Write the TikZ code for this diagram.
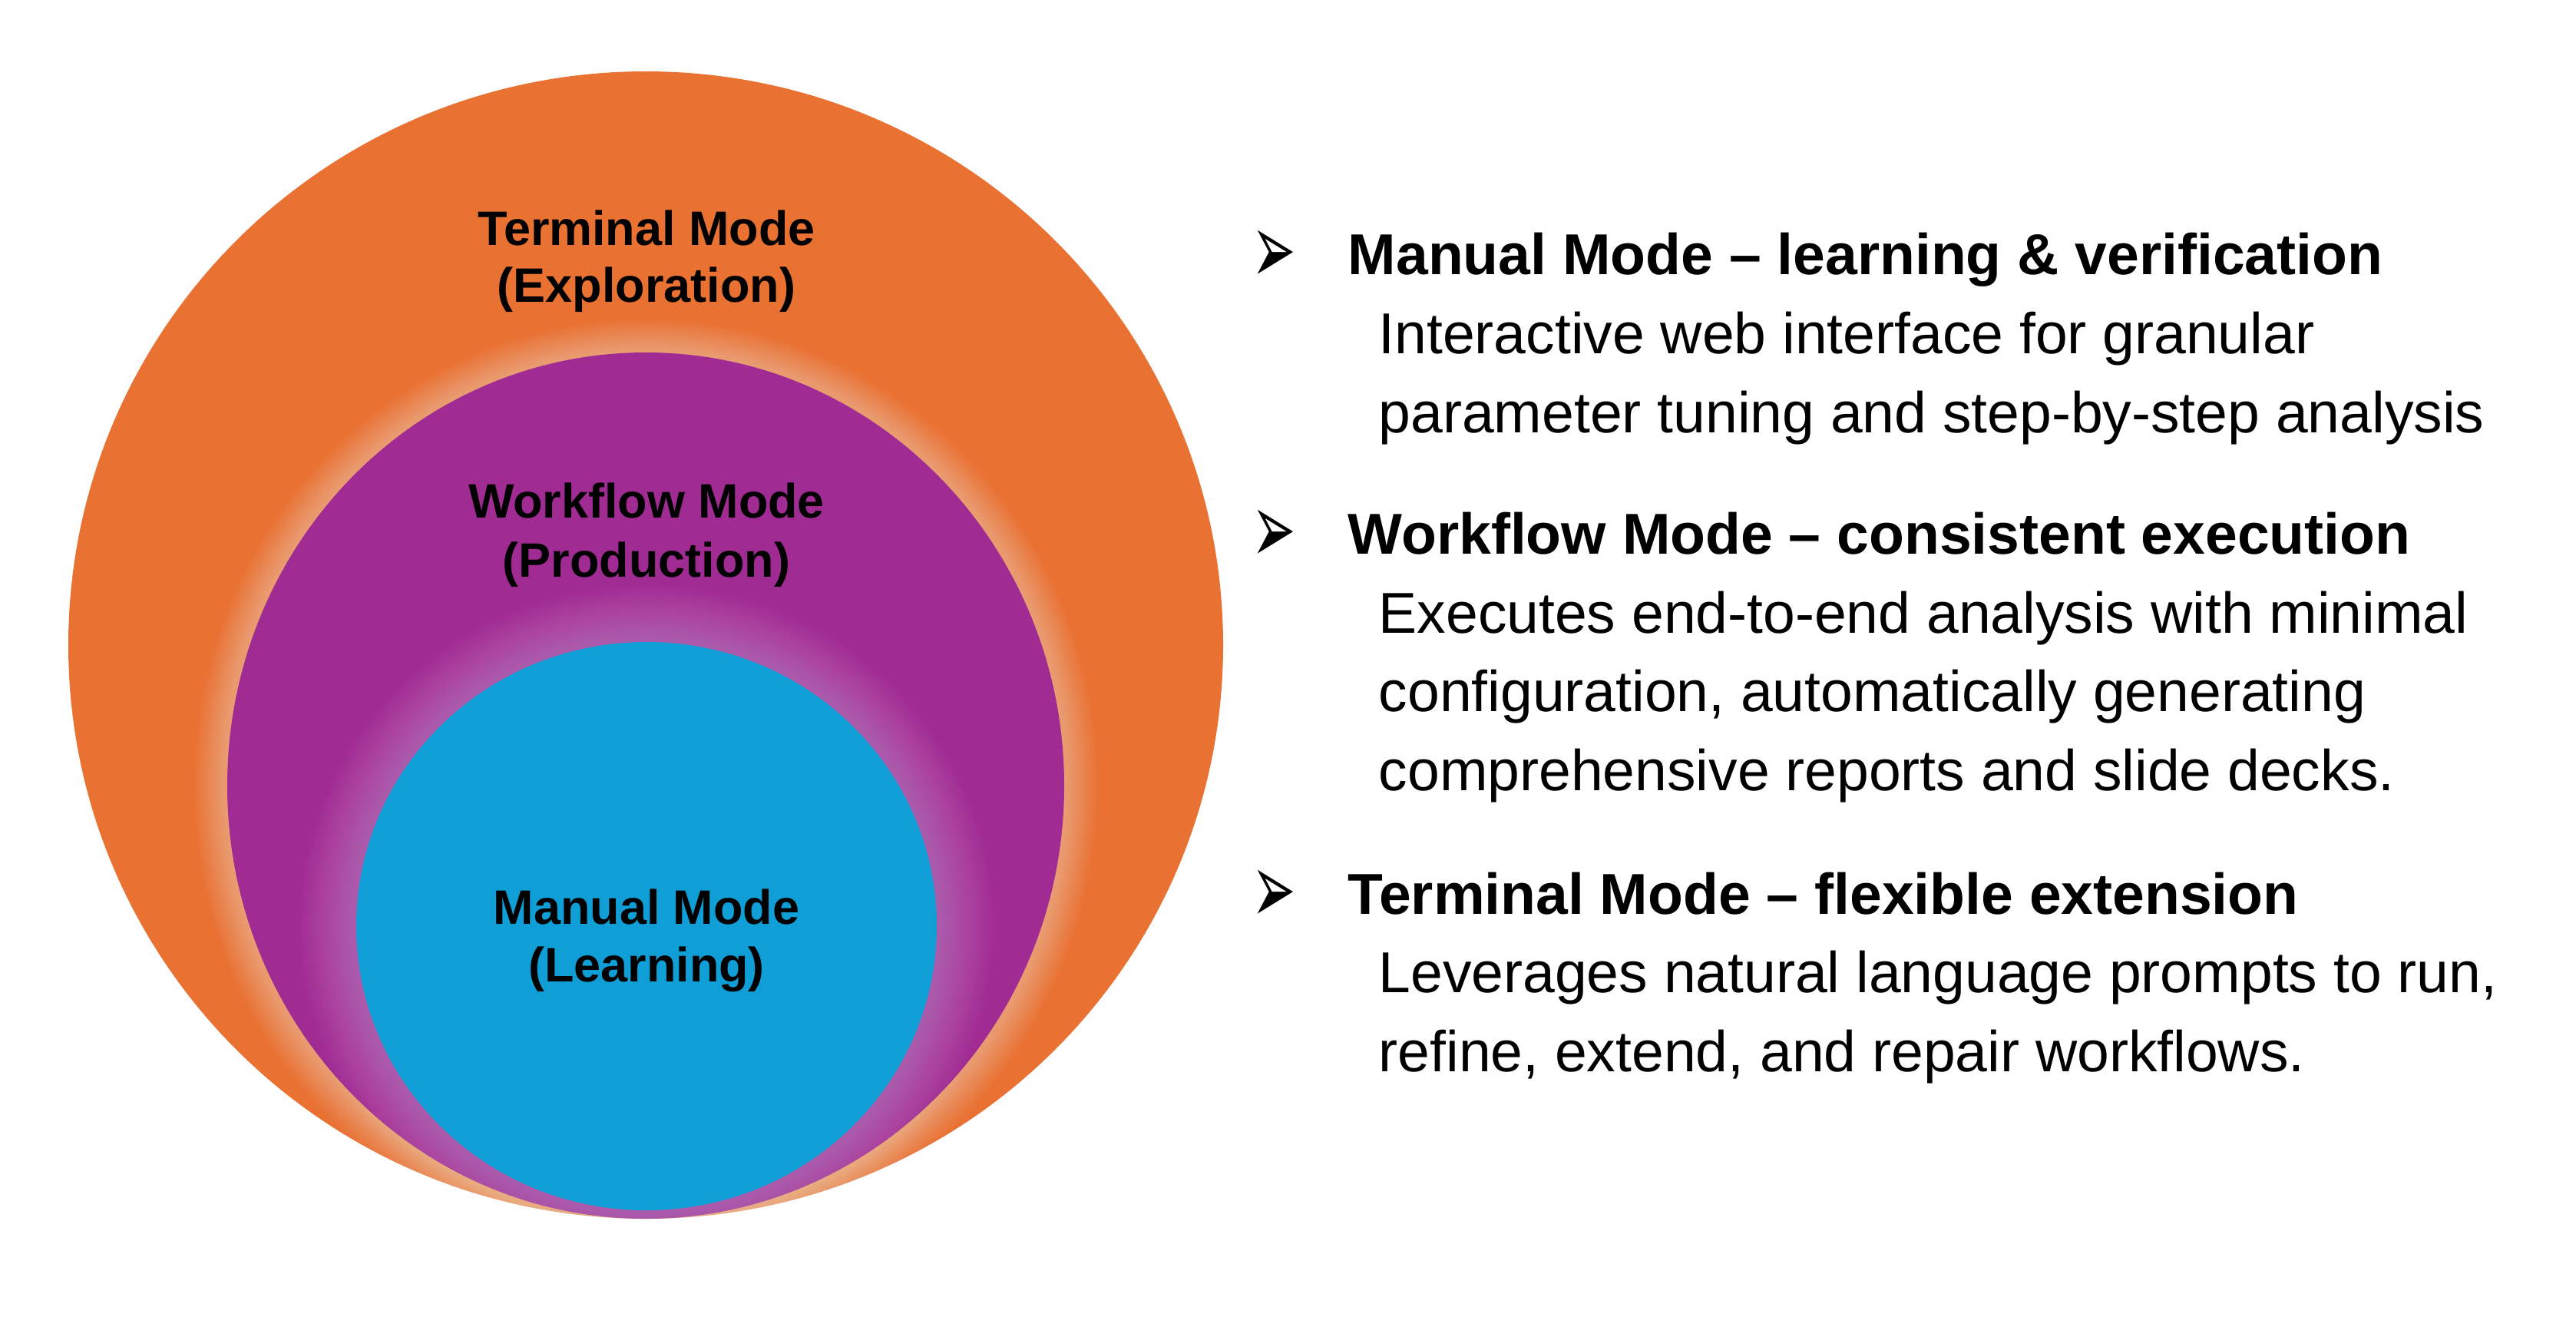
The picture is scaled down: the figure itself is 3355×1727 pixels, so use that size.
\documentclass[tikz,border=0pt]{standalone}
\usepackage{fontspec}
\setmainfont{Liberation Sans}
\newfontfamily\dingfont{DejaVu Sans}
\definecolor{termorange}{HTML}{E97132}
\definecolor{workpurple}{HTML}{A02B93}
\definecolor{manblue}{HTML}{0F9ED5}
\newcommand{\modearrow}{\scalebox{1}[1.9]{➢}}
\tikzset{
   modelabel/.style={font=\bfseries\fontsize{17.9}{21.6}\selectfont,anchor=base,inner sep=0pt},
   headline/.style={font=\bfseries\fontsize{21.35}{29}\selectfont,anchor=base west,inner sep=0pt},
   bodyline/.style={font=\fontsize{21.35}{29}\selectfont,anchor=base west,inner sep=0pt},
   arrowbullet/.style={font=\dingfont\fontsize{19.5}{22}\selectfont,anchor=base west,inner sep=0pt}
}

\begin{document}
\begin{tikzpicture}[x=0.01cm,y=-0.01cm]
   \useasboundingbox (0,0) rectangle (3355,1727);
   % nested modes
   \fill[termorange] (841,840) ellipse [x radius=752,y radius=747];
   \foreach \d in {2,4,...,44}
      \fill[white,opacity=0.018] (841,1023) ellipse [x radius=545+\d,y radius=564+\d];
   \fill[workpurple] (841,1023) ellipse [x radius=545,y radius=564];
   \foreach \d in {3,6,...,75}
      \fill[white,opacity=0.012] (842,1206) ellipse [x radius=378+\d,y radius=370+\d];
   \fill[manblue] (842,1206) ellipse [x radius=378,y radius=370];
   \begin{scope}[every node/.style={modelabel}]
    \node (term1) at (842,319) {Terminal Mode};
    \node (term2) at (842,393) {(Exploration)};
    \node (work1) at (842,674) {Workflow Mode};
    \node (work2) at (842,751) {(Production)};
    \node (man1) at (842,1203) {Manual Mode};
    \node (man2) at (842,1278) {(Learning)};
   \end{scope}
   % descriptions
   \node[arrowbullet] (b1) at (1630,369) {\modearrow};
   \node[arrowbullet] (b2) at (1630,733) {\modearrow};
   \node[arrowbullet] (b3) at (1630,1202) {\modearrow};
   \node[headline] (h1) at (1755,357) {Manual Mode – learning \& verification};
   \node[headline] (h2) at (1755,721) {Workflow Mode – consistent execution};
   \node[headline] (h3) at (1755,1190) {Terminal Mode – flexible extension};
   \begin{scope}[every node/.style={bodyline}]
    \node (t11) at (1795,460) {Interactive web interface for granular};
    \node (t12) at (1795,563) {parameter tuning and step-by-step analysis};
    \node (t21) at (1795,824) {Executes end-to-end analysis with minimal};
    \node (t22) at (1795,926) {configuration, automatically generating};
    \node (t23) at (1795,1029) {comprehensive reports and slide decks.};
    \node (t31) at (1795,1292) {Leverages natural language prompts to run,};
    \node (t32) at (1795,1395) {refine, extend, and repair workflows.};
   \end{scope}
\end{tikzpicture}
\end{document}
